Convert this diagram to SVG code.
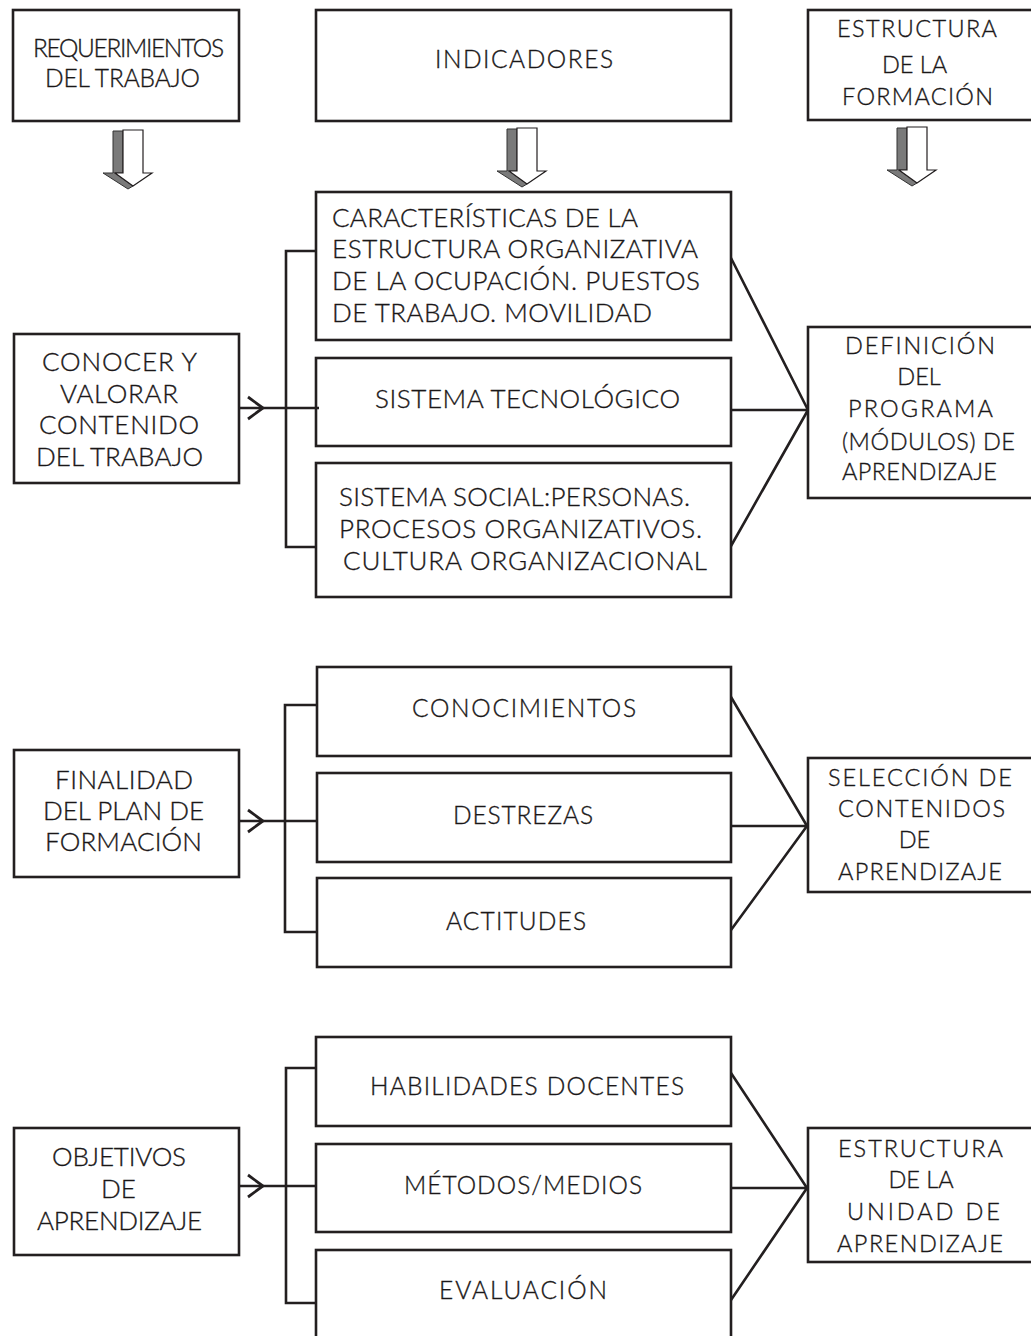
<svg xmlns="http://www.w3.org/2000/svg" xmlns:xlink="http://www.w3.org/1999/xlink" width="1031" height="1336" viewBox="0 0 1031 1336">
  <style>
    .box { fill: #ffffff; stroke: #231f20; stroke-width: 2.6; }
    .t { font-family: Lato, "Open Sans", "Liberation Sans", sans-serif; font-weight: 300; font-size: 24.5px; fill: #1a1718; stroke: #1a1718; stroke-width: 0.35; }
    .lg { font-size: 26px; }
    .sm { font-size: 23.5px; }
    .mid { text-anchor: middle; }
    .conn { fill: none; stroke: #231f20; stroke-width: 2.6; }
    .chev { fill: none; stroke: #231f20; stroke-width: 2.8; stroke-linejoin: miter; }
  </style>
  <defs>
    <!-- shaded block arrow pointing down -->
    <g id="downArrow">
      <polygon points="113,131 123,131 123,173 115,173 133,186 128,189 103,173 113,173" fill="#7a7a7a" stroke="#333333" stroke-width="1"/>
      <polygon points="123,130 143,130 143,173 152,173 133,186 115,173 123,173" fill="#ffffff" stroke="#231f20" stroke-width="1.2"/>
    </g>
  </defs>
  <rect width="1031" height="1336" fill="#ffffff"/>

  <!-- header row -->
  <g id="n-requerimientos">
    <rect class="box" x="13" y="10" width="226" height="111"/>
    <text class="t" x="33" y="57" textLength="191">REQUERIMIENTOS</text>
    <text class="t" x="45" y="87" textLength="155">DEL TRABAJO</text>
  </g>
  <g id="n-indicadores">
    <rect class="box" x="316" y="10" width="415" height="111"/>
    <text class="t" x="435" y="68" textLength="178">INDICADORES</text>
  </g>
  <g id="n-estructura-formacion">
    <rect class="box" x="808" y="10" width="232" height="110"/>
    <text class="t sm" x="837" y="37" textLength="160">ESTRUCTURA</text>
    <text class="t sm mid" x="914.5" y="73">DE LA</text>
    <text class="t sm" x="842" y="105" textLength="151">FORMACIÓN</text>
  </g>

  <!-- section 1 -->
  <g id="n-conocer">
    <rect class="box" x="14" y="334" width="225" height="149"/>
    <text class="t lg" x="42" y="371" textLength="155">CONOCER Y</text>
    <text class="t lg" x="60" y="403" textLength="118">VALORAR</text>
    <text class="t lg" x="39" y="434" textLength="160">CONTENIDO</text>
    <text class="t lg" x="36" y="466" textLength="167">DEL TRABAJO</text>
  </g>
  <g id="n-caracteristicas">
    <rect class="box" x="316" y="192" width="415" height="148"/>
    <text class="t lg" x="332" y="227" textLength="306">CARACTERÍSTICAS DE LA</text>
    <text class="t lg" x="332" y="258" textLength="366">ESTRUCTURA ORGANIZATIVA</text>
    <text class="t lg" x="332" y="290" textLength="368">DE LA OCUPACIÓN. PUESTOS</text>
    <text class="t lg" x="332" y="322" textLength="320">DE TRABAJO. MOVILIDAD</text>
  </g>
  <g id="n-tecnologico">
    <rect class="box" x="316" y="358" width="415" height="88"/>
    <text class="t lg" x="375" y="408" textLength="305">SISTEMA TECNOLÓGICO</text>
  </g>
  <g id="n-social">
    <rect class="box" x="316" y="463" width="415" height="134"/>
    <text class="t lg" x="339" y="506" textLength="351">SISTEMA SOCIAL:PERSONAS.</text>
    <text class="t lg" x="339" y="538" textLength="363">PROCESOS ORGANIZATIVOS.</text>
    <text class="t lg" x="343" y="570" textLength="364">CULTURA ORGANIZACIONAL</text>
  </g>
  <g id="n-definicion">
    <rect class="box" x="808" y="327" width="232" height="171"/>
    <text class="t sm" x="845" y="354" textLength="150">DEFINICIÓN</text>
    <text class="t sm mid" x="919" y="385">DEL</text>
    <text class="t sm" x="848" y="417" textLength="145">PROGRAMA</text>
    <text class="t sm" x="842" y="450" textLength="173">(MÓDULOS) DE</text>
    <text class="t sm" x="842" y="480" textLength="155">APRENDIZAJE</text>
  </g>

  <!-- section 2 -->
  <g id="n-finalidad">
    <rect class="box" x="14" y="750" width="225" height="127"/>
    <text class="t lg" x="55" y="789" textLength="138">FINALIDAD</text>
    <text class="t lg" x="43" y="820" textLength="161">DEL PLAN DE</text>
    <text class="t lg" x="45" y="851" textLength="157">FORMACIÓN</text>
  </g>
  <g id="n-conocimientos">
    <rect class="box" x="317" y="667" width="414" height="89"/>
    <text class="t" x="412" y="717" textLength="224">CONOCIMIENTOS</text>
  </g>
  <g id="n-destrezas">
    <rect class="box" x="317" y="773" width="414" height="89"/>
    <text class="t" x="453" y="824" textLength="140">DESTREZAS</text>
  </g>
  <g id="n-actitudes">
    <rect class="box" x="317" y="878" width="414" height="89"/>
    <text class="t" x="446" y="930" textLength="140">ACTITUDES</text>
  </g>
  <g id="n-seleccion">
    <rect class="box" x="808" y="758" width="232" height="134"/>
    <text class="t sm" x="828" y="786" textLength="184">SELECCIÓN DE</text>
    <text class="t sm" x="838" y="817" textLength="167">CONTENIDOS</text>
    <text class="t sm mid" x="914.5" y="848">DE</text>
    <text class="t sm" x="838" y="880" textLength="164">APRENDIZAJE</text>
  </g>

  <!-- section 3 -->
  <g id="n-objetivos">
    <rect class="box" x="14" y="1128" width="225" height="127"/>
    <text class="t lg" x="52" y="1166" textLength="134">OBJETIVOS</text>
    <text class="t lg mid" x="118.5" y="1198">DE</text>
    <text class="t lg" x="37" y="1230" textLength="165">APRENDIZAJE</text>
  </g>
  <g id="n-habilidades">
    <rect class="box" x="316" y="1037" width="415" height="89"/>
    <text class="t" x="370" y="1095" textLength="314">HABILIDADES DOCENTES</text>
  </g>
  <g id="n-metodos">
    <rect class="box" x="316" y="1144" width="415" height="88"/>
    <text class="t" x="404" y="1194" textLength="238">MÉTODOS/MEDIOS</text>
  </g>
  <g id="n-evaluacion">
    <rect class="box" x="316" y="1250" width="415" height="92"/>
    <text class="t" x="439" y="1299" textLength="168">EVALUACIÓN</text>
  </g>
  <g id="n-estructura-unidad">
    <rect class="box" x="808" y="1128" width="232" height="134"/>
    <text class="t sm" x="838" y="1157" textLength="165">ESTRUCTURA</text>
    <text class="t sm mid" x="921" y="1188">DE LA</text>
    <text class="t sm" x="847" y="1220" textLength="153">UNIDAD DE</text>
    <text class="t sm" x="837" y="1252" textLength="166">APRENDIZAJE</text>
  </g>

  <!-- connectors -->
  <g id="connectors">
    <use xlink:href="#downArrow"/>
    <use xlink:href="#downArrow" transform="translate(394,-2)"/>
    <use xlink:href="#downArrow" transform="translate(784,-3)"/>

    <!-- section 1 -->
    <path class="conn" d="M239,408 H319"/>
    <path class="chev" d="M248,397 L263,408 L248,419"/>
    <path class="conn" d="M316,251 H286 V547 H316"/>
    <path class="conn" d="M731,258 L808,410 M731,410 H808 M731,546 L808,410"/>

    <!-- section 2 -->
    <path class="conn" d="M239,821 H317"/>
    <path class="chev" d="M248,810 L263,821 L248,832"/>
    <path class="conn" d="M317,705 H285 V932 H317"/>
    <path class="conn" d="M731,697 L807,826 M731,826 H807 M731,930 L807,826"/>

    <!-- section 3 -->
    <path class="conn" d="M239,1186 H316"/>
    <path class="chev" d="M248,1175 L263,1186 L248,1197"/>
    <path class="conn" d="M316,1068 H286 V1303 H316"/>
    <path class="conn" d="M731,1073 L807,1188 M731,1188 H807 M731,1300 L807,1188"/>
  </g>
</svg>
